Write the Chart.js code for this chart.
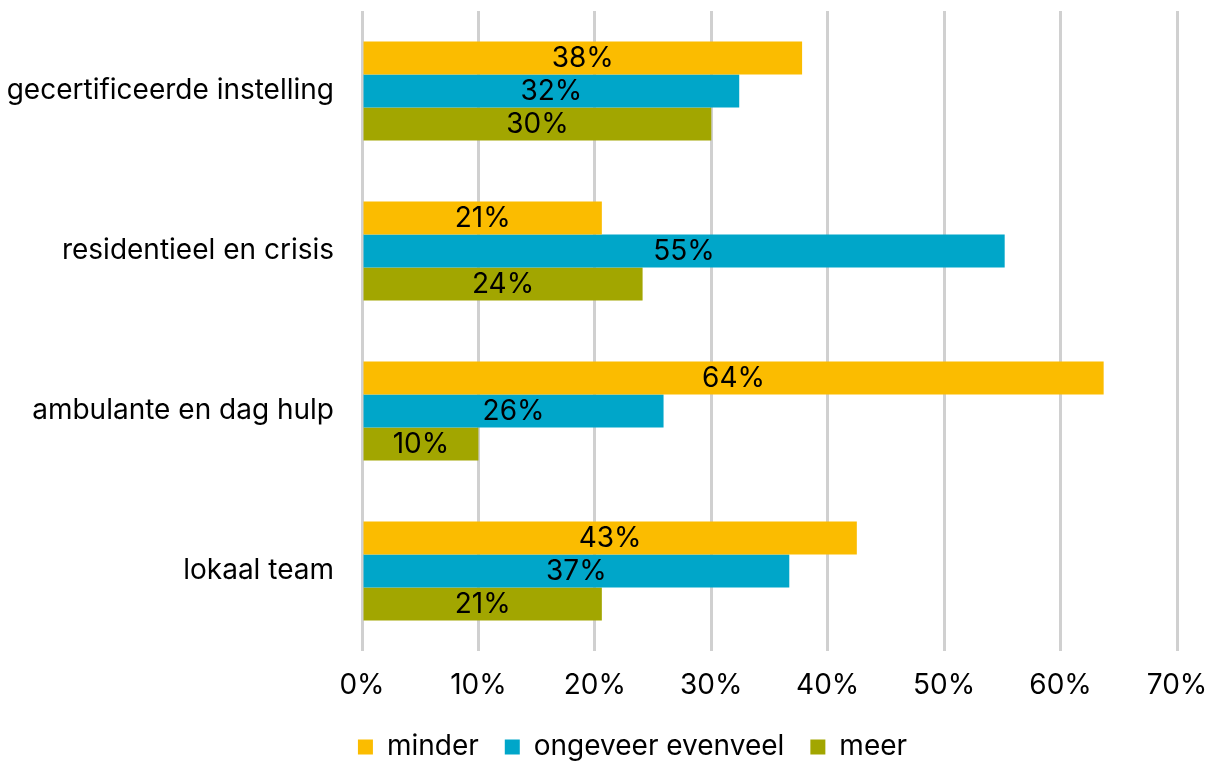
<!DOCTYPE html>
<html>
<head>
<meta charset="utf-8">
<script src="https://cdn.jsdelivr.net/npm/chart.js@4"></script>
<style>
html,body{margin:0;padding:0;background:#fff;}
#wrap{width:1213px;height:763px;}
</style>
</head>
<body>
<div id="wrap"><canvas id="c" width="1213" height="763"></canvas></div>
<script>
const categories = ["gecertificeerde instelling", "residentieel en crisis", "ambulante en dag hulp", "lokaal team"];
const seriesNames = ["minder", "ongeveer evenveel", "meer"];
const minder = [37.8, 20.6, 63.7, 42.5];
const ongeveer = [32.4, 55.2, 25.9, 36.7];
const meer = [30.0, 24.1, 10.0, 20.6];
const xTicks = [0, 10, 20, 30, 40, 50, 60, 70];
const colors = ["#FBBC00", "#00A6C9", "#A2A600"];

const labelPlugin = {
  id: 'barLabels',
  afterLayout(chart) {
    if (chart.legend) { chart.legend.left += 44; chart.legend.right += 44; }
  },
  afterDatasetsDraw(chart) {
    const ctx = chart.ctx;
    ctx.save();
    ctx.font = '28px Inter';
    ctx.fillStyle = '#000';
    ctx.textAlign = 'center';
    ctx.textBaseline = 'middle';
    chart.data.datasets.forEach((ds, i) => {
      const meta = chart.getDatasetMeta(i);
      meta.data.forEach((bar, j) => {
        const x = (bar.x + bar.base) / 2;
        ctx.fillText(Math.round(ds.data[j]) + '%', x, bar.y + 1);
      });
    });
    ctx.restore();
  }
};

Chart.defaults.font.family = 'Inter';
Chart.defaults.font.size = 28;
Chart.defaults.color = '#000';

new Chart(document.getElementById('c'), {
  type: 'bar',
  data: {
    labels: categories,
    datasets: [
      { label: seriesNames[0], data: minder, backgroundColor: colors[0] },
      { label: seriesNames[1], data: ongeveer, backgroundColor: colors[1] },
      { label: seriesNames[2], data: meer, backgroundColor: colors[2] }
    ]
  },
  options: {
    indexAxis: 'y',
    responsive: false,
    animation: false,
    devicePixelRatio: 1,
    layout: { padding: { top: 11, right: 36, left: 0, bottom: -8 } },
    datasets: { bar: { categoryPercentage: 0.62, barPercentage: 1.0, borderWidth: 0 } },
    scales: {
      x: {
        min: 0, max: 70,
        afterBuildTicks(axis) { axis.ticks = xTicks.map(v => ({ value: v })); },
        ticks: { callback: v => v + '%', padding: 18, color: '#000' },
        grid: { color: '#d0d0d0', lineWidth: 3, drawTicks: false },
        border: { display: false },
        afterFit(s) { s.paddingLeft = 0; s.paddingRight = 0; s.height = 56; }
      },
      y: {
        ticks: { padding: 28, color: '#000' },
        grid: { display: false, drawTicks: false },
        border: { display: false },
        afterFit(s) { s.width = 362; s.paddingTop = 0; s.paddingBottom = 0; }
      }
    },
    plugins: {
      legend: {
        position: 'bottom',
        labels: { boxWidth: 15, boxHeight: 15, padding: 26, color: '#000' }
      },
      tooltip: { enabled: false }
    }
  },
  plugins: [labelPlugin]
});
</script>
</body>
</html>
